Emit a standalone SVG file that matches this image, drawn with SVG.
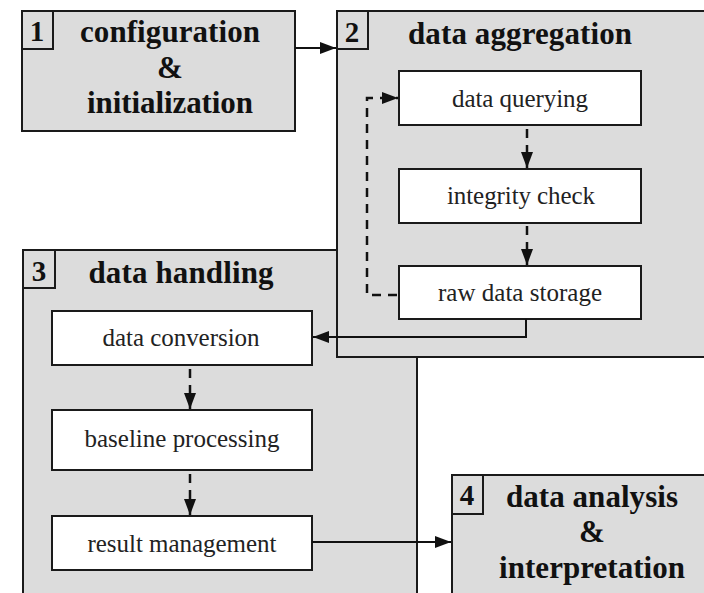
<svg xmlns="http://www.w3.org/2000/svg" width="704" height="593" viewBox="0 0 704 593">
<style>
.grp{fill:#dcdcdc;stroke:#1a1a1a;stroke-width:2}
.num{fill:#dcdcdc;stroke:#1a1a1a;stroke-width:2}
.box{fill:#ffffff;stroke:#1a1a1a;stroke-width:2}
.title{font-family:"Liberation Serif","Times New Roman",serif;font-weight:bold;font-size:31px;fill:#111;text-anchor:middle}
.n{font-family:"Liberation Serif","Times New Roman",serif;font-weight:bold;font-size:29px;fill:#111;text-anchor:middle}
.lbl{font-family:"Liberation Serif","Times New Roman",serif;font-size:25px;fill:#222;text-anchor:middle}
.solid{fill:none;stroke:#111;stroke-width:2}
.dash{fill:none;stroke:#111;stroke-width:2.5;stroke-dasharray:9 7}
</style>
<defs>
<marker id="ah" markerUnits="userSpaceOnUse" markerWidth="17" markerHeight="12" refX="16" refY="6" orient="auto">
<path d="M0,0 L16,6 L0,12 Z" fill="#111"/>
</marker>
</defs>
<g id="group3">
<rect class="grp" x="23" y="250" width="394" height="360"/>
<rect class="num" x="23" y="250" width="32" height="38"/>
<text class="n" x="39" y="281">3</text>
<text class="title" x="181" y="283" textLength="185" lengthAdjust="spacing">data handling</text>
</g>
<g id="group2">
<rect class="grp" x="337" y="11" width="380" height="346"/>
<rect class="num" x="337" y="11" width="31" height="38"/>
<text class="n" x="352" y="42">2</text>
<text class="title" x="520" y="44" textLength="224" lengthAdjust="spacing">data aggregation</text>
</g>
<g id="group1">
<rect class="grp" x="22" y="11" width="273" height="120"/>
<rect class="num" x="22" y="11" width="31" height="38"/>
<text class="n" x="37" y="41">1</text>
<text class="title" x="170" y="42" textLength="180" lengthAdjust="spacing">configuration</text>
<text class="title" x="170" y="78">&amp;</text>
<text class="title" x="170" y="113" textLength="166" lengthAdjust="spacing">initialization</text>
</g>
<g id="group4">
<rect class="grp" x="452" y="475" width="270" height="140"/>
<rect class="num" x="452" y="475" width="31" height="39"/>
<text class="n" x="467" y="505">4</text>
<text class="title" x="592" y="507" textLength="172" lengthAdjust="spacing">data analysis</text>
<text class="title" x="592" y="542">&amp;</text>
<text class="title" x="592" y="578" textLength="186" lengthAdjust="spacing">interpretation</text>
</g>
<g id="data-querying">
<rect class="box" x="399" y="71" width="242" height="54"/>
<text class="lbl" x="520" y="107" textLength="136" lengthAdjust="spacing">data querying</text>
</g>
<g id="integrity-check">
<rect class="box" x="399" y="169" width="242" height="54"/>
<text class="lbl" x="521" y="204" textLength="148" lengthAdjust="spacing">integrity check</text>
</g>
<g id="raw-data-storage">
<rect class="box" x="399" y="266" width="242" height="53"/>
<text class="lbl" x="520" y="301" textLength="164" lengthAdjust="spacing">raw data storage</text>
</g>
<g id="data-conversion">
<rect class="box" x="52" y="311" width="260" height="54"/>
<text class="lbl" x="181" y="346" textLength="157" lengthAdjust="spacing">data conversion</text>
</g>
<g id="baseline-processing">
<rect class="box" x="52" y="410" width="260" height="60"/>
<text class="lbl" x="182" y="447" textLength="195" lengthAdjust="spacing">baseline processing</text>
</g>
<g id="result-management">
<rect class="box" x="52" y="516" width="260" height="54"/>
<text class="lbl" x="182" y="552" textLength="189" lengthAdjust="spacing">result management</text>
</g>
<g id="connectors">
<path class="solid" d="M295,48 H336" marker-end="url(#ah)"/>
<path class="dash" d="M527,129 V168" marker-end="url(#ah)"/>
<path class="dash" d="M527,226 V265" marker-end="url(#ah)"/>
<path class="dash" d="M397,295 H367 V98 H398" marker-end="url(#ah)"/>
<path class="solid" d="M526,319 V337 H313" marker-end="url(#ah)"/>
<path class="dash" d="M190,369 V409" marker-end="url(#ah)"/>
<path class="dash" d="M190,474 V515" marker-end="url(#ah)"/>
<path class="solid" d="M312,542 H451" marker-end="url(#ah)"/>
</g>
</svg>
